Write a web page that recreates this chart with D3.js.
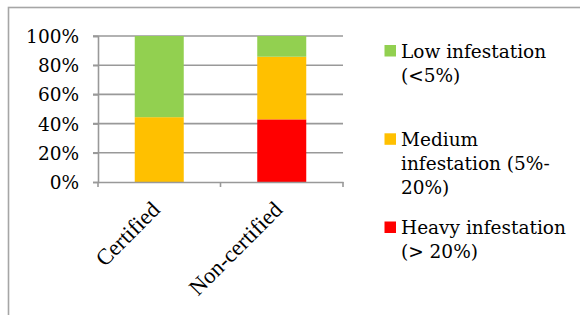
<!DOCTYPE html>
<html>
<head>
<meta charset="utf-8">
<script src="https://cdn.jsdelivr.net/npm/d3@7"></script>
<style>
  html, body { margin: 0; padding: 0; background: #fff; }
  svg { display: block; }
</style>
</head>
<body>
<svg id="chart" width="580" height="315"></svg>
<script>
// ---- data ----
const categories = ["Certified", "Non-certified"];
const heavy  = [0, 42.9];
const medium = [44.4, 42.9];
const low    = [55.6, 14.2];
const seriesNames = ["Heavy infestation (> 20%)", "Medium infestation (5%-20%)", "Low infestation (<5%)"];
const legendLines = [
  ["Low infestation", "(<5%)"],
  ["Medium", "infestation (5%-", "20%)"],
  ["Heavy infestation", "(> 20%)"]
];
const yTicks = [0, 20, 40, 60, 80, 100];
const colors = ["#FF0000", "#FFC000", "#92D050"];

// ---- layout ----
const svg = d3.select("#chart");
const W = 580, H = 315;
const plot = { left: 98, right: 343, top: 36, bottom: 182 };
const serif = "'DejaVu Serif', serif";
const times = "'Liberation Serif', 'Times New Roman', serif";

// outer frame
svg.append("rect")
  .attr("x", 8.5).attr("y", 7.5)
  .attr("width", W + 10).attr("height", H + 10)
  .attr("fill", "none").attr("stroke", "#a6a6a6").attr("stroke-width", 1.6);

const x = d3.scaleBand().domain(categories).range([plot.left, plot.right]).padding(0);
const y = d3.scaleLinear().domain([0, 100]).range([plot.bottom, plot.top]);

// stacked data
const table = categories.map((c, i) => ({ cat: c, heavy: heavy[i], medium: medium[i], low: low[i] }));
const stack = d3.stack().keys(["heavy", "medium", "low"])(table);

// gridlines
const gridG = svg.append("g");
gridG.selectAll("line").data(yTicks.filter(t => t > 0)).join("line")
  .attr("x1", plot.left - 5).attr("x2", plot.right)
  .attr("y1", d => y(d)).attr("y2", d => y(d))
  .attr("stroke", "#999").attr("stroke-width", 1.6);

// bars
const bw = x.bandwidth();
svg.append("g").selectAll("g").data(stack).join("g")
  .attr("fill", (d, i) => colors[i])
  .selectAll("rect").data(d => d).join("rect")
  .attr("x", d => x(d.data.cat) + bw * 0.3)
  .attr("width", bw * 0.4)
  .attr("y", d => y(d[1]))
  .attr("height", d => y(d[0]) - y(d[1]));

// y axis
const yAxis = svg.append("g")
  .attr("transform", `translate(${plot.left},0)`)
  .call(d3.axisLeft(y).tickValues(yTicks).tickFormat(d => d + "%").tickSize(5).tickPadding(14));
yAxis.select(".domain").attr("stroke", "#999").attr("stroke-width", 1.6);
yAxis.selectAll(".tick line").attr("stroke", "#999").attr("stroke-width", 1.6);
yAxis.selectAll(".tick text")
  .attr("font-family", serif).attr("font-size", "18.5px").attr("fill", "#000")
  .attr("dy", "0.35em");

// x axis
const xAxis = svg.append("g")
  .attr("transform", `translate(0,${plot.bottom})`)
  .call(d3.axisBottom(x).tickSize(0).tickFormat(""));
xAxis.select(".domain").attr("stroke", "#999").attr("stroke-width", 1.6);
// category boundary ticks
const bounds = categories.map(c => x(c)).concat([x(categories[categories.length - 1]) + bw]);
xAxis.selectAll("line.bt").data(bounds).join("line").attr("class", "bt")
  .attr("x1", d => d).attr("x2", d => d).attr("y1", 0).attr("y2", 5)
  .attr("stroke", "#999").attr("stroke-width", 1.6);
// rotated labels
svg.append("g").selectAll("text").data(categories).join("text")
  .attr("transform", d => `translate(${x(d) + bw / 2 + 2},${plot.bottom + 29}) rotate(-45)`)
  .attr("text-anchor", "end")
  .attr("font-family", times).attr("font-size", "22.5px").attr("fill", "#000")
  .text(d => d);

// legend
const legendTop = [45, 133.3, 221.5];
const leg = svg.append("g");
legendLines.forEach((lines, i) => {
  const colorIdx = 2 - i;
  leg.append("rect")
    .attr("x", 384.5).attr("y", legendTop[i])
    .attr("width", 11.5).attr("height", 11.5)
    .attr("fill", colors[colorIdx]);
  const t = leg.append("text")
    .attr("font-family", serif).attr("font-size", "18.5px").attr("fill", "#000");
  lines.forEach((ln, j) => {
    t.append("tspan").attr("x", 401).attr("y", legendTop[i] + 12.5 + j * 24).text(ln);
  });
});
</script>
</body>
</html>
